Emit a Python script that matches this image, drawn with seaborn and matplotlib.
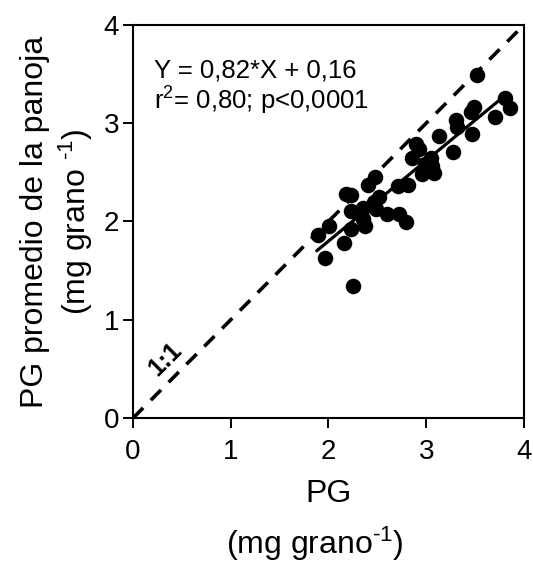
import matplotlib
matplotlib.use("Agg")
import matplotlib.pyplot as plt
import seaborn as sns
import numpy as np
import pandas as pd

# ---- data ----
pg = [3.52, 3.81, 3.86, 3.70, 3.49, 3.46, 3.30, 3.32, 3.47, 3.13,
      2.90, 2.93, 3.27, 2.85, 3.05, 2.99, 3.06, 2.96, 3.08, 2.48,
      2.71, 2.81, 2.40, 2.18, 2.23, 2.52, 2.47, 2.35, 2.49, 2.23,
      2.60, 2.72, 2.79, 2.35, 2.37, 2.23, 2.01, 1.89, 2.16, 1.96,
      2.25]
pg_panoja = [3.49, 3.26, 3.15, 3.06, 3.16, 3.11, 3.03, 2.96, 2.89, 2.87,
             2.79, 2.74, 2.71, 2.65, 2.65, 2.58, 2.56, 2.48, 2.49, 2.45,
             2.36, 2.37, 2.37, 2.28, 2.27, 2.25, 2.20, 2.14, 2.13, 2.11,
             2.08, 2.08, 1.99, 2.03, 1.95, 1.92, 1.95, 1.86, 1.78, 1.63,
             1.34]
slope = 0.82
intercept = 0.16
fit_x = [1.88, 3.80]
one_to_one = [0, 4]
ticks = [0, 1, 2, 3, 4]

sns.set_style("ticks")
plt.rcParams['font.family'] = ['Liberation Sans', 'DejaVu Sans']
plt.rcParams['mathtext.fontset'] = 'custom'
plt.rcParams['mathtext.rm'] = 'Liberation Sans'
plt.rcParams['mathtext.default'] = 'regular'
plt.rcParams['text.color'] = 'black'
plt.rcParams['axes.labelcolor'] = 'black'
plt.rcParams['xtick.color'] = 'black'
plt.rcParams['ytick.color'] = 'black'
plt.rcParams['axes.edgecolor'] = 'black'

fig = plt.figure(figsize=(5.33, 5.65), dpi=100)
ax = fig.add_axes([0.2495, 0.26, 0.7335, 0.696])

df = pd.DataFrame({"x": pg, "y": pg_panoja})
fit = pd.DataFrame({"x": fit_x, "y": [slope * v + intercept for v in fit_x]})
ref = pd.DataFrame({"x": one_to_one, "y": one_to_one})

sns.lineplot(data=ref, x="x", y="y", ax=ax, color="black", lw=2.6, zorder=2)
ax.lines[-1].set_dashes((4, 3))
sns.lineplot(data=fit, x="x", y="y", ax=ax, color="black", lw=2.3, zorder=3)
sns.scatterplot(data=df, x="x", y="y", ax=ax, color="black", s=125,
                edgecolor="black", linewidth=0, zorder=4)

ax.set_xlim(0, 4)
ax.set_ylim(0, 4)
ax.set_xticks(ticks)
ax.set_yticks(ticks)
for s in ax.spines.values():
    s.set_linewidth(1.5)
    s.set_visible(True)
ax.tick_params(axis="both", length=7, width=1.4, labelsize=20)
ax.tick_params(axis="x", pad=8)
ax.tick_params(axis="y", pad=3)

ax.set_xlabel("PG", fontsize=23, labelpad=10)
fig.text(0.5905, 1 - 544 / 565, r"(mg grano$^{\text{-1}}$)", fontsize=23,
         ha="center", va="center")
ax.set_ylabel("PG promedio de la panoja\n" + r"(mg grano $^{\text{-1}}$)", fontsize=23,
              labelpad=6, linespacing=1.25)

ax.text(0.22, 3.46, "Y = 0,82*X + 0,16", fontsize=18.5, ha="left", va="baseline")
ax.text(0.22, 3.14, "r$^{2}$= 0,80; p<0,0001", fontsize=18.5, ha="left", va="baseline")
ax.text(0.33, 0.60, "1:1", fontsize=18, fontweight="bold", rotation=45,
        ha="center", va="center")

fig.savefig("out.png", dpi=100)
